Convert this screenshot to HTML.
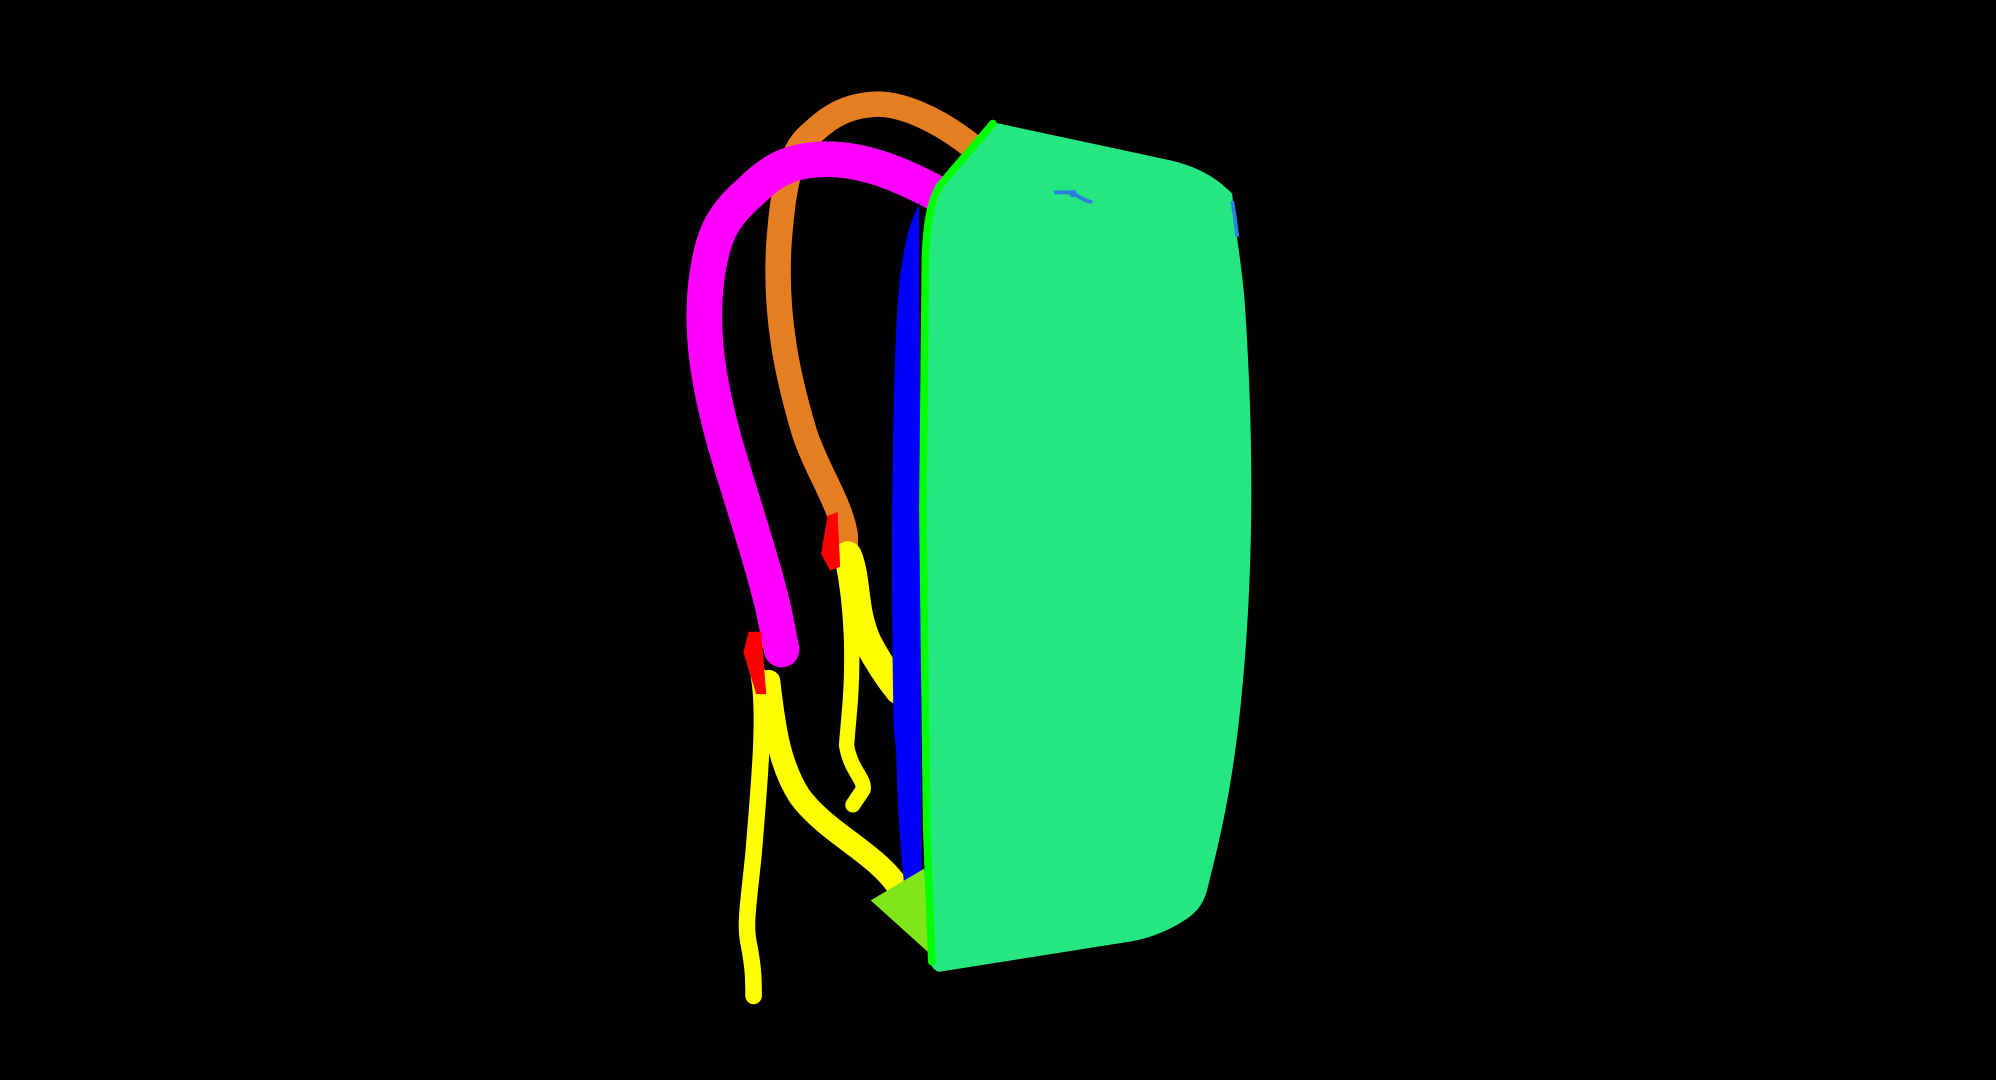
<!DOCTYPE html>
<html><head><meta charset="utf-8"><style>
html,body{margin:0;padding:0;background:#000;width:1996px;height:1080px;overflow:hidden}
svg{display:block}
</style></head><body>
<svg width="1996" height="1080" viewBox="0 0 1568 848" preserveAspectRatio="none" xmlns="http://www.w3.org/2000/svg">
<rect width="1568" height="848" fill="#000"/>
<g fill="none" stroke-linecap="round" stroke-linejoin="round">
<path d="M765,116 C735,92 705,80 685,82 C660,84 648,95 635,107 C620,120 615,150 612,190 C608,250 620,300 632,340 C642,370 660,395 664,420 L664,430" stroke="#e67e22" stroke-width="20"/>
<path d="M666,436 C674,455 670,480 682,505 C690,520 698,532 706,542" stroke="#ffff00" stroke-width="22"/>
<path d="M662,440 C670,480 670,520 668,550 L665,585 C668,605 680,612 678,620 L670,632" stroke="#ffff00" stroke-width="12"/>
<path d="M604,535 C608,570 612,600 628,625 C650,655 690,670 708,700" stroke="#ffff00" stroke-width="18"/>
<path d="M596,530 C602,560 596,620 592,670 C588,710 585,725 588,740 C592,760 592,770 592,782" stroke="#ffff00" stroke-width="13"/>
<path d="M592,508 L604,498" stroke="#ffff00" stroke-width="10"/>
<path d="M736,152 C710,138 680,125 650,125 C620,125 605,135 590,150 C570,168 560,180 555,220 C550,260 556,300 570,350 C585,400 600,445 608,480 L614,510" stroke="#ff00ff" stroke-width="28"/>
</g>
<path d="M650,405 L658,402 L660,445 L652,448 L645,435 Z" fill="#ff0000"/>
<path d="M588,496 L598,496 L602,545 L594,545 L584,512 Z" fill="#ff0000"/>
<path d="M724,158 C712,175 706,210 704,260 C700,360 700,460 702,570 L704,590 C705,640 708,670 710,692 L724,690 L722,160 Z" fill="#0000ff"/>
<path d="M684,707 L726,682 L734,752 Z" fill="#7ee619"/>
<path d="M780,96 L920,126 C945,132 958,142 968,152 C970,180 976,210 978,240 C986,360 984,460 975,550 C968,620 958,660 948,700 C945,710 940,716 933,721 C920,730 905,736 890,739 L738,763 C733,762 730,757 730,750 L726,650 L724,400 L726,200 L730,160 L738,145 L776,98 Z" fill="#26e681"/>
<path d="M780,97 L738,146 C730,160 728,180 727,200 L725,400 L728,650 L732,755" fill="none" stroke="#00ff00" stroke-width="6" stroke-linecap="round"/>
<path d="M828,151 L842,151 L852,157 L858,159" fill="none" stroke="#2a7fe0" stroke-width="3"/>
<circle cx="843" cy="152" r="3" fill="#2a7fe0"/>
<path d="M968,158 L970,170 L972,186" fill="none" stroke="#2a7fe0" stroke-width="3"/>
</svg>
</body></html>
